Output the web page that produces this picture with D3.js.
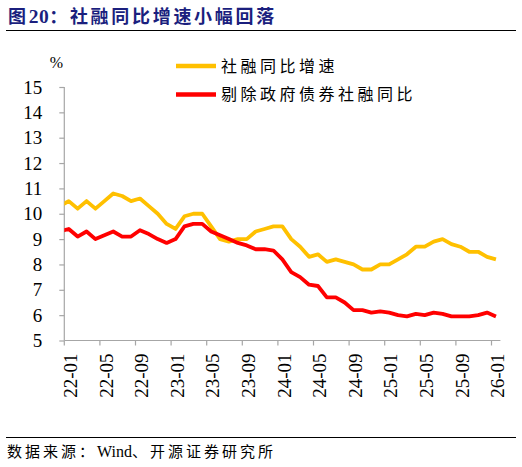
<!DOCTYPE html>
<html><head><meta charset="utf-8">
<script src="https://cdn.jsdelivr.net/npm/d3@7"></script>
<style>
html,body{margin:0;padding:0;background:#fff;}
svg{display:block;}
</style>
</head><body>
<script>
// ---- data ----
const months = ["21-12",
 "22-01","22-02","22-03","22-04","22-05","22-06","22-07","22-08","22-09","22-10","22-11","22-12",
 "23-01","23-02","23-03","23-04","23-05","23-06","23-07","23-08","23-09","23-10","23-11","23-12",
 "24-01","24-02","24-03","24-04","24-05","24-06","24-07","24-08","24-09","24-10","24-11","24-12",
 "25-01","25-02","25-03","25-04","25-05","25-06","25-07","25-08","25-09","25-10","25-11","25-12",
 "26-01"];
const tsfGrowth = [10.3,
 10.5,10.2,10.5,10.2,10.5,10.8,10.7,10.5,10.6,10.3,10.0,9.6,
 9.4,9.9,10.0,10.0,9.5,9.0,8.9,9.0,9.0,9.3,9.4,9.5,
 9.5,9.0,8.7,8.3,8.4,8.1,8.2,8.1,8.0,7.8,7.8,8.0,
 8.0,8.2,8.4,8.7,8.7,8.9,9.0,8.8,8.7,8.5,8.5,8.3,
 8.2];
const tsfExGovBond = [9.3,
 9.4,9.1,9.3,9.0,9.15,9.3,9.1,9.1,9.35,9.2,9.0,8.85,
 9.0,9.5,9.6,9.6,9.3,9.15,9.0,8.85,8.75,8.6,8.6,8.55,
 8.2,7.7,7.5,7.2,7.15,6.7,6.7,6.5,6.2,6.2,6.1,6.15,
 6.1,6.0,5.95,6.05,6.0,6.1,6.05,5.95,5.95,5.95,6.0,6.1,
 5.95];
const tickLabels = ["22-01","22-05","22-09","23-01","23-05","23-09","24-01","24-05","24-09","25-01","25-05","25-09","26-01"];
const yTicks = [5,6,7,8,9,10,11,12,13,14,15];
const seriesNames = ["社融同比增速","剔除政府债券社融同比"];
const seriesColors = ["#FFC000","#FF0000"];
const titleParts = [["图",true],["20",false],["：社融同比增速小幅回落",true]];
const sourceParts = [["数据来源：",true],["Wind",false],["、开源证券研究所",true]];

// ---- layout ----
const W = 522, H = 467;
const x0 = 64.3, x1 = 500.4, yTop = 87, yBot = 340.5;
const visible = months.slice(1);
const step = (x1 - x0) / visible.length;

const svg = d3.select("body").append("svg").attr("width", W).attr("height", H);
const serif = "'Liberation Serif','Times New Roman','Noto Sans CJK SC',serif";
const cjk = "'Liberation Serif','Noto Sans CJK SC',sans-serif";

// title
const title = svg.append("text").attr("x", 8).attr("y", 22.5)
  .attr("font-family", cjk).attr("font-size", 18).attr("font-weight", "bold")
  .attr("fill", "#1B1F7E");
titleParts.forEach(([t, sp]) => title.append("tspan").attr("letter-spacing", sp ? 2.7 : 0.5)
  .attr("font-size", sp ? 18 : 19.5).text(t));
svg.append("line").attr("x1", 6).attr("x2", 516).attr("y1", 30.5).attr("y2", 30.5)
  .attr("stroke", "#000").attr("stroke-width", 1);

// scales
const x = d3.scalePoint().domain(months).range([x0 - step / 2, x1 - step / 2]);
const xBound = d3.scaleBand().domain(visible).range([x0, x1]);
const y = d3.scaleLinear().domain([5, 15]).range([yBot, yTop]);

// axes
const axisColor = "#A6A6A6";
const yAxis = svg.append("g").attr("transform", `translate(${x0},0)`)
  .call(d3.axisLeft(y).tickValues(yTicks).tickSize(5).tickSizeOuter(0).tickPadding(17).tickFormat(d3.format("d")));
yAxis.selectAll("path,line").attr("stroke", axisColor).attr("stroke-width", 1.2);
yAxis.select(".domain").attr("d", `M-0,${yTop}V${yBot}`);
yAxis.selectAll("text").attr("font-family", serif).attr("font-size", 19).attr("fill", "#000");

const xAxis = svg.append("g").attr("transform", `translate(0,${yBot})`);
xAxis.append("line").attr("x1", xBound.range()[0]).attr("x2", xBound.range()[1])
  .attr("stroke", axisColor).attr("stroke-width", 1.2);
xAxis.selectAll("line.tick").data(tickLabels).join("line").attr("class", "tick")
  .attr("x1", d => xBound(d)).attr("x2", d => xBound(d)).attr("y1", 0).attr("y2", 5)
  .attr("stroke", axisColor).attr("stroke-width", 1.2);
xAxis.selectAll("text").data(tickLabels).join("text")
  .attr("transform", d => `translate(${x(d) + 8.3},13) rotate(-90)`)
  .attr("text-anchor", "end").attr("font-family", serif).attr("font-size", 19)
  .attr("fill", "#000").text(d => d);

// % unit
svg.append("text").attr("x", 56.5).attr("y", 67.5).attr("text-anchor", "middle")
  .attr("font-family", serif).attr("font-size", 16).attr("fill", "#000").text("%");

// lines
svg.append("clipPath").attr("id", "plotclip").append("rect")
  .attr("x", x0).attr("y", 0).attr("width", x1 - x0).attr("height", H);
const line = d3.line().x((d, i) => x(months[i])).y(d => y(d));
const plot = svg.append("g").attr("clip-path", "url(#plotclip)");
[tsfGrowth, tsfExGovBond].forEach((s, k) => {
  plot.append("path").datum(s).attr("d", line).attr("fill", "none")
    .attr("stroke", seriesColors[k]).attr("stroke-width", 3.8)
    .attr("stroke-linejoin", "round").attr("stroke-linecap", "butt");
});

// legend
const lg = svg.append("g");
seriesNames.forEach((n, k) => {
  const cy = 66 + k * 28.5;
  lg.append("line").attr("x1", 176).attr("x2", 216).attr("y1", cy).attr("y2", cy)
    .attr("stroke", seriesColors[k]).attr("stroke-width", 4.5);
  lg.append("text").attr("x", 221).attr("y", cy).attr("dy", "0.36em")
    .attr("font-family", cjk).attr("font-size", 16).attr("letter-spacing", 3.5)
    .attr("fill", "#000").text(n);
});

// source
svg.append("line").attr("x1", 6).attr("x2", 516).attr("y1", 437.5).attr("y2", 437.5)
  .attr("stroke", "#000").attr("stroke-width", 1);
const src = svg.append("text").attr("x", 7).attr("y", 457).attr("font-family", cjk).attr("font-size", 15)
  .attr("fill", "#000");
sourceParts.forEach(([t, sp]) => src.append("tspan").attr("letter-spacing", sp ? 3 : 0)
  .attr("font-size", sp ? 15 : 16).text(t));
</script>
</body></html>
